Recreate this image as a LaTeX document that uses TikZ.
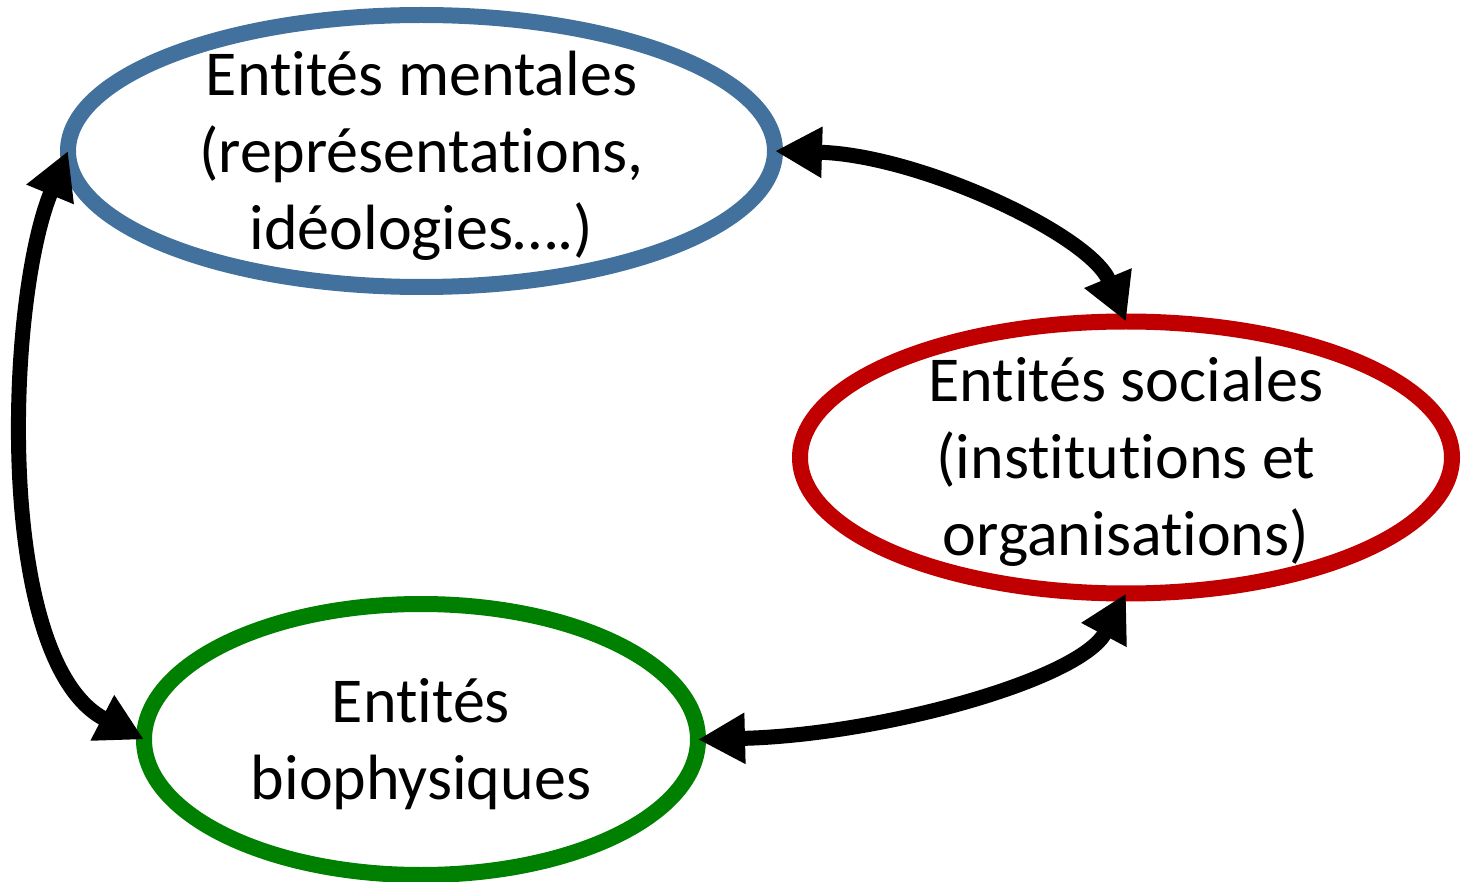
\documentclass[tikz,border=0pt]{standalone}
\usepackage{fontspec}
\setmainfont{Carlito}[Ligatures={NoCommon,NoContextual}, Contextuals=NoAlternate]
\usetikzlibrary{shapes.geometric,arrows.meta}
\definecolor{mentblue}{RGB}{65,113,156}
\definecolor{socred}{RGB}{192,0,0}
\definecolor{biogreen}{RGB}{0,128,0}
\begin{document}
\begin{tikzpicture}[x=0.5pt,y=-0.5pt,
  entity/.style={ellipse, draw, line width=8pt, inner sep=0pt, outer sep=0pt},
  lbl/.style={align=center, inner sep=0pt, text=black,
    font=\fontsize{32pt}{38.5pt}\selectfont},
  link/.style={line width=7.5pt, draw=black,
    {Triangle[length=23.5pt,width=24pt]}-{Triangle[length=23.5pt,width=24pt]}}]
\useasboundingbox (0,0) rectangle (1469,882);

% the three entity rings
\node[entity, draw=mentblue, minimum width=353.5pt, minimum height=136pt] (ment) at (421.5,151) {};
\node[entity, draw=socred, minimum width=326pt, minimum height=136pt] (soc) at (1126,457.5) {};
\node[entity, draw=biogreen, minimum width=277pt, minimum height=135.5pt] (bio) at (421,739.5) {};

% labels
\node[lbl] (mentT) at (421.5,156) {Entités mentales\\(représentations,\\idéologies….)};
\node[lbl] (socT) at (1126,462) {Entités sociales\\(institutions et\\organisations)};
\node[lbl] (bioT) at (421,744) {Entités\\biophysiques};

% two-way links
\draw[link] (ment.east) .. controls +(145,4) and +(-36,-86.5) .. (soc.north);
\draw[link] (soc.south) .. controls +(-46,86.5) and +(182,-4.5) .. (bio.east);
\draw[link] (ment.west) .. controls +(-62,150) and +(-150,-78) .. (bio.west);
\end{tikzpicture}
\end{document}
